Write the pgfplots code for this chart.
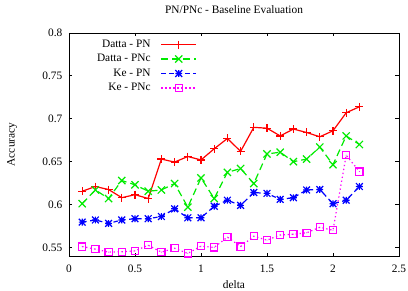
\documentclass[border=0pt]{standalone}
\usepackage{pgfplots}
\pgfplotsset{compat=1.18}
\usepackage{fontspec}
\setmainfont{Liberation Serif}
\definecolor{gpred}{RGB}{255,0,0}
\definecolor{gpgreen}{RGB}{0,235,0}
\definecolor{gpblue}{RGB}{0,0,255}
\definecolor{gpmag}{RGB}{255,0,255}
\pgfdeclareplotmark{gpstar}{%
  \pgfpathmoveto{\pgfqpoint{-\pgfplotmarksize}{0pt}}\pgfpathlineto{\pgfqpoint{\pgfplotmarksize}{0pt}}%
  \pgfpathmoveto{\pgfqpoint{0pt}{-\pgfplotmarksize}}\pgfpathlineto{\pgfqpoint{0pt}{\pgfplotmarksize}}%
  \pgfpathmoveto{\pgfqpoint{-\pgfplotmarksize}{-\pgfplotmarksize}}\pgfpathlineto{\pgfqpoint{\pgfplotmarksize}{\pgfplotmarksize}}%
  \pgfpathmoveto{\pgfqpoint{-\pgfplotmarksize}{\pgfplotmarksize}}\pgfpathlineto{\pgfqpoint{\pgfplotmarksize}{-\pgfplotmarksize}}%
  \pgfusepathqstroke}
\pgfdeclareplotmark{gpx}{%
  \pgfpathmoveto{\pgfqpoint{-\pgfplotmarksize}{-\pgfplotmarksize}}\pgfpathlineto{\pgfqpoint{\pgfplotmarksize}{\pgfplotmarksize}}%
  \pgfpathmoveto{\pgfqpoint{-\pgfplotmarksize}{\pgfplotmarksize}}\pgfpathlineto{\pgfqpoint{\pgfplotmarksize}{-\pgfplotmarksize}}%
  \pgfusepathqstroke}
\pgfdeclareplotmark{gpsq}{%
  \pgfpathrectangle{\pgfqpoint{-\pgfplotmarksize}{-\pgfplotmarksize}}{\pgfqpoint{2\pgfplotmarksize}{2\pgfplotmarksize}}%
  \pgfusepathqstroke
  \pgfpathcircle{\pgfpointorigin}{0.5pt}\pgfusepathqfill}
\begin{document}
\fontsize{11.4}{13.7}\selectfont
\begin{tikzpicture}
\begin{axis}[
  name=ax,
  scale only axis, width=330bp, height=223bp,
  xmin=0, xmax=2.5, ymin=0.54, ymax=0.8,
  xtick={0,0.5,1,1.5,2,2.5},
  ytick={0.55,0.6,0.65,0.7,0.75,0.8},
  tick pos=both, tick align=inside,
  major tick length=3.5bp,
  axis line style={black, line width=0.8bp},
  every tick/.style={black, line width=0.8bp},
  /pgf/number format/fixed,
  /pgf/number format/precision=2,
  /pgf/number format/assume math mode=true,
  xticklabel style={anchor=center, inner sep=0pt, yshift=-13bp},
  yticklabel style={anchor=east, inner sep=0pt, xshift=-6.5bp},
  title={PN/PNc - Baseline Evaluation},
  title style={at={(axis description cs:0.5,1)}, anchor=center, yshift=17bp, inner sep=0pt},
  xlabel={delta},
  xlabel style={at={(axis description cs:0.5,0)}, anchor=center, yshift=-29bp, inner sep=0pt},
  ylabel={Accuracy},
  every axis y label/.style={at={(axis description cs:-0.1727,0.5)}, anchor=center, rotate=90, inner sep=0pt},
  legend plot pos=right,
  legend cell align=right,
  legend image code/.code={\draw[mark repeat=2,mark phase=2,#1] plot coordinates {(0bp,0bp)(17.5bp,0bp)(35bp,0bp)};},
  legend style={draw=none, fill=none, at={(rel axis cs:0.388,0.9727)}, anchor=north east,
    inner sep=0pt, row sep=4bp, column sep=10bp,
    nodes={inner sep=0pt, text height=8bp, text depth=2.5bp}},
  every axis plot/.append style={line width=1.2bp},
]
\addplot[color=gpred, solid, mark=+, mark size=4bp, mark options={solid}] coordinates {
(0.1,0.6155)(0.2,0.621)(0.3,0.6175)(0.4,0.608)(0.5,0.6115)(0.6,0.607)(0.7,0.653)(0.8,0.6495)
(0.9,0.656)(1.0,0.652)(1.1,0.665)(1.2,0.677)(1.3,0.662)(1.4,0.690)(1.5,0.689)(1.6,0.680)
(1.7,0.688)(1.8,0.684)(1.9,0.679)(2.0,0.686)(2.1,0.707)(2.2,0.714)};
\addlegendentry{Datta - PN}
\addplot[color=gpgreen, dash pattern=on 7bp off 4bp, mark=gpx, mark size=3.6bp, mark options={solid}] coordinates {
(0.1,0.601)(0.2,0.617)(0.3,0.607)(0.4,0.628)(0.5,0.623)(0.6,0.6155)(0.7,0.617)(0.8,0.6245)
(0.9,0.597)(1.0,0.631)(1.1,0.607)(1.2,0.6375)(1.3,0.642)(1.4,0.6245)(1.5,0.659)(1.6,0.661)
(1.7,0.650)(1.8,0.653)(1.9,0.667)(2.0,0.6465)(2.1,0.680)(2.2,0.670)};
\addlegendentry{Datta - PNc}
\addplot[color=gpblue, dash pattern=on 4.5bp off 3.5bp, mark=gpstar, mark size=3.4bp, mark options={solid}] coordinates {
(0.1,0.5795)(0.2,0.582)(0.3,0.578)(0.4,0.582)(0.5,0.5835)(0.6,0.5835)(0.7,0.586)(0.8,0.595)
(0.9,0.5845)(1.0,0.5845)(1.1,0.598)(1.2,0.605)(1.3,0.599)(1.4,0.614)(1.5,0.613)(1.6,0.606)
(1.7,0.608)(1.8,0.617)(1.9,0.6175)(2.0,0.601)(2.1,0.605)(2.2,0.621)};
\addlegendentry{Ke - PN}
\addplot[color=gpmag, dash pattern=on 1.3bp off 2.7bp, mark=gpsq, mark size=3.6bp, mark options={solid}] coordinates {
(0.1,0.551)(0.2,0.548)(0.3,0.5445)(0.4,0.545)(0.5,0.546)(0.6,0.5525)(0.7,0.5445)(0.8,0.549)
(0.9,0.543)(1.0,0.5515)(1.1,0.550)(1.2,0.562)(1.3,0.551)(1.4,0.563)(1.5,0.5585)(1.6,0.5645)
(1.7,0.5655)(1.8,0.567)(1.9,0.5735)(2.0,0.570)(2.1,0.6575)(2.2,0.6385)};
\addlegendentry{Ke - PNc}
\end{axis}
\pgfresetboundingbox
\path[use as bounding box] ([shift={(-69bp,-35bp)}]ax.south west) rectangle ([shift={(9bp,33bp)}]ax.north east);
\end{tikzpicture}
\end{document}
